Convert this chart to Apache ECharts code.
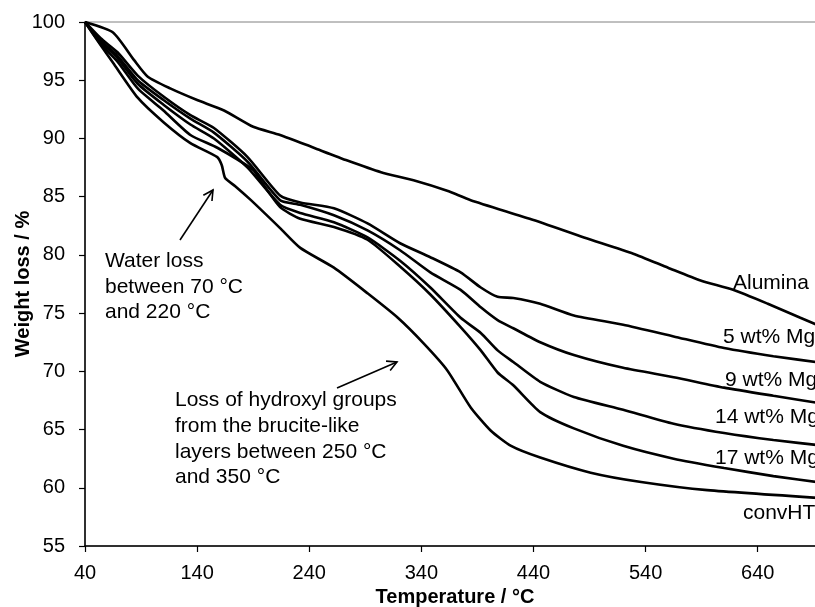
<!DOCTYPE html>
<html>
<head>
<meta charset="utf-8">
<script src="https://cdn.jsdelivr.net/npm/echarts@6/dist/echarts.min.js"></script>
<style>
	html, body { margin: 0; padding: 0; overflow: hidden; background: #ffffff; }
	#chart { width: 830px; height: 607px; }
</style>
</head>
<body>
<div id="chart"></div>
<script>
	// [temperature °C, weight %]
	var alumina = [[40, 100], [65, 99.1], [84, 96.7], [96, 95.3], [116, 94.3], [140, 93.3], [164, 92.4],
		[190, 91.0], [214, 90.3], [244, 89.2], [274, 88.1], [304, 87.1], [333, 86.4], [363, 85.5],
		[384, 84.7], [440, 83.0], [485, 81.5], [529, 80.1], [560, 78.9], [589, 77.8], [618, 77.0],
		[649, 75.8], [678, 74.6], [700, 73.7]]

	var mgTemps = [40, 54, 69, 87, 110, 134, 155, 185, 214, 232, 262, 292, 321, 348, 375, 393, 408,
		422, 446, 476, 520, 565, 610, 654, 700]
	var mg5 = [100, 98.6, 97.4, 95.4, 93.6, 92.0, 90.9, 88.4, 85.1, 84.5, 84.0, 82.7, 81.0, 79.8,
		78.5, 77.2, 76.4, 76.3, 75.8, 74.8, 74.0, 73.0, 72.0, 71.3, 70.7]
	var mg9 = [100, 98.4, 97.1, 95.0, 93.3, 91.7, 90.5, 88.0, 84.7, 84.3, 83.4, 82.1, 80.4, 78.5,
		77.0, 75.5, 74.4, 73.7, 72.5, 71.4, 70.3, 69.5, 68.6, 67.9, 67.2]
	var mg14 = [100, 98.3, 96.9, 94.7, 92.9, 91.2, 90.0, 87.5, 84.3, 83.6, 82.8, 81.5, 79.5, 77.2,
		74.6, 73.3, 71.8, 70.8, 69.1, 67.8, 66.7, 65.5, 64.7, 64.1, 63.6]

	var mg17Temps = [40, 54, 69, 87, 110, 134, 158, 190, 195, 214, 232, 262, 292, 321, 348, 375, 393,
		408, 422, 446, 476, 520, 565, 610, 654, 700]
	var mg17 = [100, 98.1, 96.6, 94.3, 92.4, 90.3, 89.2, 87.3, 86.6, 84.1, 83.1, 82.4, 81.3, 79.0,
		76.6, 73.8, 71.8, 69.9, 68.8, 66.5, 65.1, 63.6, 62.5, 61.7, 61.0, 60.4]

	var convHT = [[40, 100], [54, 98.0], [65, 96.5], [87, 93.5], [110, 91.4], [134, 89.6], [158, 88.4],
		[162, 87.7], [165, 86.6], [174, 85.9], [188, 84.7], [214, 82.3], [232, 80.6], [262, 78.9],
		[292, 76.7], [319, 74.6], [342, 72.4], [363, 70.1], [384, 66.9], [402, 64.9], [420, 63.6],
		[446, 62.6], [491, 61.3], [536, 60.5], [595, 59.8], [700, 59.1]]

	var seriesNames = ['Alumina', '5 wt% Mg', '9 wt% Mg', '14 wt% Mg', '17 wt% Mg', 'convHT']

	function pair(xs, ys) {
		return xs.map(function (x, i) { return [x, ys[i]] })
	}

	var font = 'Liberation Sans, Arial, sans-serif'

	function lineSeries(name, data) {
		return {
			name: name,
			type: 'line',
			data: data,
			symbol: 'none',
			smooth: 0.2,
			lineStyle: { color: '#000000', width: 2.6 },
			silent: true
		}
	}

	function text(str, x, y, size) {
		return {
			type: 'text',
			x: x,
			y: y,
			style: { text: str, font: size + 'px ' + font, fill: '#000000', verticalAlign: 'middle', lineHeight: 25.6 }
		}
	}

	// 箭头：直线加开口箭头
	function arrow(x1, y1, x2, y2) {
		var dx = x2 - x1, dy = y2 - y1
		var len = Math.sqrt(dx * dx + dy * dy)
		var bx = -dx / len, by = -dy / len
		var a = 28 * Math.PI / 180, h = 11
		var p1 = [x2 + h * (bx * Math.cos(a) - by * Math.sin(a)), y2 + h * (bx * Math.sin(a) + by * Math.cos(a))]
		var p2 = [x2 + h * (bx * Math.cos(a) + by * Math.sin(a)), y2 + h * (-bx * Math.sin(a) + by * Math.cos(a))]
		return [
			{ type: 'line', shape: { x1: x1, y1: y1, x2: x2, y2: y2 }, style: { stroke: '#000000', lineWidth: 1.6 } },
			{ type: 'polyline', shape: { points: [p1, [x2, y2], p2] }, style: { stroke: '#000000', fill: null, lineWidth: 1.6 } }
		]
	}

	var chart = echarts.init(document.getElementById('chart'))
	var option = {
		animation: false,
		textStyle: { fontFamily: font },
		grid: {
			left: 85,
			top: 22,
			width: 740,
			height: 524,
			containLabel: false,
			outerBoundsMode: 'none',
			show: true,
			borderColor: '#808080',
			borderWidth: 1
		},
		xAxis: {
			type: 'value',
			min: 40,
			max: 700,
			interval: 100,
			name: 'Temperature / °C',
			nameLocation: 'middle',
			nameGap: 41,
			nameMoveOverlap: false,
			nameTextStyle: { color: '#000000', fontSize: 20, fontWeight: 'bold', fontFamily: font },
			axisLine: { lineStyle: { color: '#000000', width: 1.5 } },
			axisTick: { show: true, inside: false, length: 6, lineStyle: { color: '#000000', width: 1.2 } },
			axisLabel: { color: '#000000', fontSize: 20, margin: 17, showMaxLabel: false, fontFamily: font },
			splitLine: { show: false }
		},
		yAxis: {
			type: 'value',
			min: 55,
			max: 100,
			interval: 5,
			name: 'Weight loss / %',
			nameLocation: 'middle',
			nameGap: 52,
			nameMoveOverlap: false,
			nameTextStyle: { color: '#000000', fontSize: 20, fontWeight: 'bold', fontFamily: font },
			axisLine: { show: true, lineStyle: { color: '#000000', width: 1.5 } },
			axisTick: { show: true, inside: false, length: 6, lineStyle: { color: '#000000', width: 1.2 } },
			axisLabel: { color: '#000000', fontSize: 20, margin: 20, fontFamily: font },
			splitLine: { show: false }
		},
		series: [
			lineSeries(seriesNames[0], alumina),
			lineSeries(seriesNames[1], pair(mgTemps, mg5)),
			lineSeries(seriesNames[2], pair(mgTemps, mg9)),
			lineSeries(seriesNames[3], pair(mgTemps, mg14)),
			lineSeries(seriesNames[4], pair(mg17Temps, mg17)),
			lineSeries(seriesNames[5], convHT)
		],
		graphic: [
			text(seriesNames[0], 733, 283, 21),
			text(seriesNames[1], 723, 337, 21),
			text(seriesNames[2], 725, 380, 21),
			text(seriesNames[3], 715, 417, 21),
			text(seriesNames[4], 715, 458, 21),
			text(seriesNames[5], 743, 513, 21),
			text('Water loss\nbetween 70 °C\nand 220 °C', 105, 287, 21),
			text('Loss of hydroxyl groups\nfrom the brucite-like\nlayers between 250 °C\nand 350 °C', 175, 439, 21)
		].concat(arrow(180, 240, 213, 190)).concat(arrow(337, 388, 397, 362))
	}
	chart.setOption(option)
</script>
</body>
</html>
